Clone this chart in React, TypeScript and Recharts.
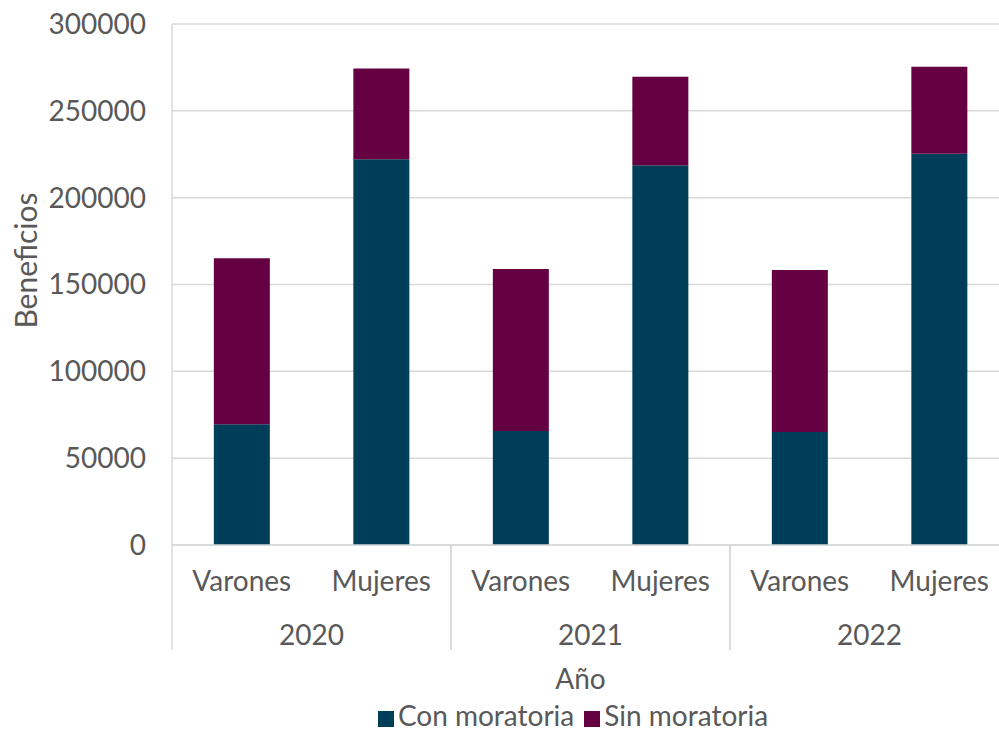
import { BarChart, Bar, XAxis, YAxis, CartesianGrid, Legend } from "recharts";

const sexes = ["Varones", "Mujeres", "Varones", "Mujeres", "Varones", "Mujeres"];
const years = ["2020", "2020", "2021", "2021", "2022", "2022"];
const conMoratoria = [69500, 222100, 65600, 218600, 65000, 225300];
const sinMoratoria = [95600, 52300, 93300, 51050, 93300, 50100];
const yTicks = [0, 50000, 100000, 150000, 200000, 250000, 300000];

const data = sexes.map((sex, i) => ({
  key: `${years[i]}-${sex}`,
  sex,
  year: years[i],
  con: conMoratoria[i],
  sin: sinMoratoria[i],
}));

const TEXT = "#595959";
const LINE = "#d9d9d9";
const FONT = "Lato, 'Open Sans', sans-serif";
const FS = 28;

function SexTick(props: any) {
  const { x, y, index } = props;
  return (
    <text x={x} y={y} dy={46} textAnchor="middle" fill={TEXT} fontSize={FS} fontFamily={FONT}>
      {sexes[index]}
    </text>
  );
}

function YearTick(props: any) {
  const { x, y, payload } = props;
  const half = payload.offset ?? 139.5;
  return (
    <g>
      <line x1={x - half} x2={x - half} y1={y - 60} y2={y + 45} stroke={LINE} strokeWidth={1.5} />
      <line x1={x + half} x2={x + half} y1={y - 60} y2={y + 45} stroke={LINE} strokeWidth={1.5} />
      <text x={x} y={y} dy={40} textAnchor="middle" fill={TEXT} fontSize={FS} fontFamily={FONT}>
        {payload.value}
      </text>
    </g>
  );
}

export default function App() {
  return (
    <div style={{ position: "fixed", left: 0, top: 0, width: 999, height: 733, overflow: "hidden", background: "#fff" }}>
      <BarChart
        width={1020}
        height={733}
        data={data}
        margin={{ top: 24, right: 11, left: 0, bottom: 0 }}
        barCategoryGap="30%"
        style={{ fontFamily: FONT }}
      >
        <CartesianGrid vertical={false} stroke={LINE} strokeWidth={1.5} />
        <XAxis
          xAxisId="sex"
          dataKey="key"
          height={60}
          tickLine={false}
          tickSize={0}
          tickMargin={0}
          axisLine={{ stroke: LINE, strokeWidth: 1.5 }}
          tick={<SexTick />}
          interval={0}
        />
        <XAxis
          xAxisId="year"
          dataKey="year"
          allowDuplicatedCategory={false}
          height={94}
          tickLine={false}
          tickSize={0}
          tickMargin={0}
          axisLine={false}
          tick={<YearTick />}
          interval={0}
          label={{ value: "Año", position: "insideBottom", offset: 10, dx: -10, fill: TEXT, fontSize: FS, fontFamily: FONT }}
        />
        <YAxis
          width={172}
          domain={[0, 300000]}
          ticks={yTicks}
          tickLine={false}
          tickSize={0}
          tickMargin={26}
          axisLine={{ stroke: LINE, strokeWidth: 1.5 }}
          tick={{ fill: TEXT, fontSize: FS, fontFamily: FONT }}
          label={{
            content: (p: any) => {
              const vb = p.viewBox || { x: 0, y: 24, width: 172, height: 521 };
              const cx = vb.x + 25;
              const cy = vb.y + vb.height / 2 - 24;
              return (
                <text
                  x={cx}
                  y={cy}
                  transform={`rotate(-90 ${cx} ${cy})`}
                  textAnchor="middle"
                  dominantBaseline="central"
                  fill={TEXT}
                  fontSize={30}
                  fontFamily={FONT}
                >
                  Beneficios
                </text>
              );
            },
          }}
        />
        <Legend
          verticalAlign="bottom"
          height={34}
          iconType="square"
          iconSize={16}
          wrapperStyle={{ left: 172, width: 812, fontSize: FS, fontFamily: FONT, lineHeight: "32px" }}
          formatter={(value: string) => <span style={{ color: TEXT }}>{value}</span>}
        />
        <Bar xAxisId="sex" dataKey="con" name="Con moratoria" stackId="a" fill="#003D59" isAnimationActive={false} />
        <Bar xAxisId="sex" dataKey="sin" name="Sin moratoria" stackId="a" fill="#650042" isAnimationActive={false} />
      </BarChart>
    </div>
  );
}
